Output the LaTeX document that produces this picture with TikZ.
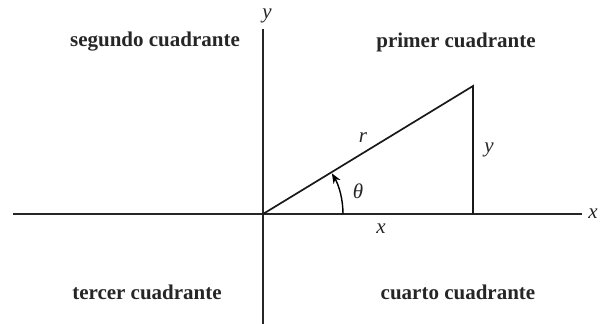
\documentclass[tikz,border=0pt]{standalone}
\usepackage{fontspec}
\setmainfont{Liberation Serif}
\usetikzlibrary{arrows.meta}
\begin{document}
\begin{tikzpicture}[x=1pt,y=-1pt,
  axis/.style={line width=1.7pt,draw=black!85},
  seg/.style={line width=1.7pt,draw=black!90},
  quad/.style={font=\fontsize{21}{24}\selectfont\bfseries,text=black!85},
  lbl/.style={font=\fontsize{21}{24}\selectfont\itshape,text=black!85,inner sep=0pt}]
\useasboundingbox (0,0) rectangle (603,324);
\coordinate (O) at (263,214);
\coordinate (xl) at (13,214);
\coordinate (xr) at (582,214);
\coordinate (yt) at (263,29);
\coordinate (yb) at (263,324);
\coordinate (P) at (473,86);
\coordinate (F) at (473,214);
\draw[axis] (xl) -- (xr);
\draw[axis] (yb) -- (yt);
\draw[seg] (O) -- (P) -- (F);
\draw[line width=1.4pt,-{Stealth[length=10pt,width=8pt]}] ([shift={(0:80)}]O) arc[start angle=0,end angle=-30.5,radius=80];
\node[lbl] (ly) at (267,16) {y};
\node[lbl] (lx) at (593,214) {x};
\node[lbl] (lr) at (363,138) {r};
\node[lbl] (lt) at (358,191) {θ};
\node[lbl] (lyy) at (489,150) {y};
\node[lbl] (lxx) at (381,229) {x};
\node[quad] (q2) at (155,42) {segundo cuadrante};
\node[quad] (q1) at (456,42) {primer cuadrante};
\node[quad] (q3) at (147,292) {tercer cuadrante};
\node[quad] (q4) at (458,292) {cuarto cuadrante};
\end{tikzpicture}
\end{document}
